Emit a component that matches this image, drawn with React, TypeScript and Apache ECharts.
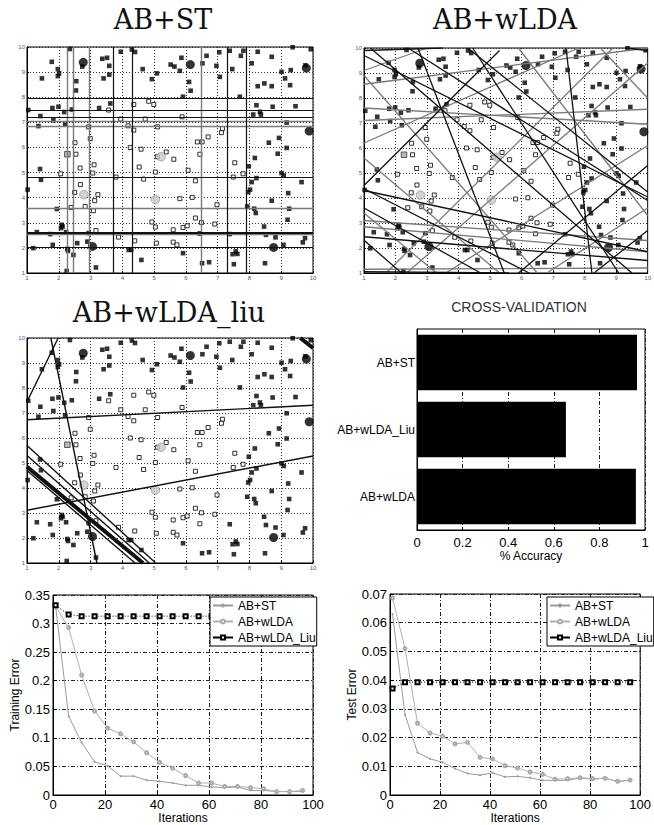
import React, { useEffect, useRef } from "react";
import * as echarts from "echarts";

// ---------- shared 2-D dataset (same points in the three scatter panels) ----------
const filledSquares: number[][] = [
  [2.35, 9.92], [1.78, 9.41], [1.47, 8.75], [1.97, 9.12], [2.01, 8.95], [1.97, 8.84], [2.55, 8.64], [2.54, 8.27],
  [2.74, 9.22], [3.37, 9.53], [3.52, 9.57], [3.59, 9.25], [3.59, 8.9], [3.41, 8.75], [3.95, 9.81], [4.3, 9.9],
  [4.4, 9.8], [4.64, 9.12], [4.93, 8.72], [5.09, 8.95], [5.52, 9.3], [5.64, 9.22], [5.81, 9.05], [5.86, 9.57],
  [6.1, 8.61], [6.15, 8.26], [5.91, 8.02], [6.52, 9.35], [6.65, 9.65], [6.96, 9.25], [7.05, 9.79], [7.07, 8.81],
  [7.38, 9.85], [7.46, 9.12], [7.73, 9.65], [7.81, 9.85], [8.07, 9.35], [8.26, 9.81], [8.7, 9.61], [9.36, 9.99],
  [9.93, 9.91], [9.01, 9.01], [9.12, 8.75], [9.3, 9.08], [9.28, 8.48], [8.47, 8.55], [8.26, 8.44], [8.7, 8.44],
  [7.7, 8.02], [9.76, 9.27],
  [1.04, 7.49], [1.42, 7.25], [1.36, 6.85], [1.83, 7.08], [1.8, 7.57], [1.99, 7.62], [2.17, 7.41], [2.41, 7.51],
  [2.2, 6.91], [3.27, 7.57], [3.62, 7.75], [8.22, 7.68], [8.33, 7.42], [8.36, 7.31], [8.12, 7.31], [8.73, 7.62],
  [9.45, 7.64], [9.17, 6.99], [8.61, 6.19], [8.93, 6.38], [9.17, 5.98], [8.89, 5.75], [8.17, 5.58], [7.98, 5.25],
  [9.01, 4.98], [9.08, 4.88], [8.22, 4.78], [8.07, 4.62], [9.64, 4.62], [8.02, 4.32], [7.96, 4.22], [9.22, 4.18],
  [7.93, 3.65], [8.15, 3.56], [8.2, 3.39], [8.7, 3.88], [9.25, 3.56], [9.2, 3.12],
  [8.46, 2.85], [8.52, 2.52], [8.82, 2.42], [9.07, 2.12], [9.75, 2.39], [9.68, 2.22], [8.49, 1.39], [7.38, 2.55],
  [7.57, 1.86], [7.62, 1.76], [7.47, 1.75], [7.51, 1.35], [6.73, 1.43], [6.51, 1.39], [5.91, 1.79], [4.6, 1.52],
  [4.2, 1.92], [4.28, 1.92],
  [1.41, 5.14], [1.44, 4.71], [1.02, 4.32], [1.94, 3.55], [2.09, 2.92], [2.07, 2.79], [2.12, 2.85], [1.31, 2.63],
  [1.73, 2.55], [2.23, 2.63], [1.2, 1.99], [1.81, 2.12], [2.27, 1.96], [2.29, 1.88], [2.46, 1.72], [2.58, 2.19],
  [2.9, 2.25], [2.94, 2.59], [2.25, 1.08], [3.17, 1.22],
];
const hollowSquares: number[][] = [
  [3.57, 7.49], [4.36, 7.71], [4.83, 7.84], [4.99, 7.71], [3.95, 7.13], [4.18, 6.86], [4.36, 6.69], [4.72, 7.13],
  [5.11, 6.82], [2.94, 6.82], [2.99, 6.35], [2.51, 6.19], [2.54, 5.73], [4.25, 6.0], [4.59, 5.93], [5.88, 7.22],
  [7.15, 6.75], [7.12, 6.59], [6.7, 6.42], [6.36, 6.22], [6.51, 6.22], [6.44, 5.73], [5.62, 5.53], [5.38, 5.82],
  [5.1, 5.63],
  [2.67, 5.18], [3.11, 5.31], [3.07, 4.98], [2.06, 4.95], [2.68, 4.52], [2.5, 4.21], [3.23, 4.12], [3.13, 3.88],
  [3.09, 3.48], [2.83, 3.65], [2.39, 3.61], [3.8, 4.82], [4.53, 5.22], [4.67, 4.74], [5.04, 5.02], [4.93, 3.03],
  [5.04, 2.83], [3.17, 2.69], [3.88, 2.43], [4.39, 2.28], [5.07, 2.19],
  [7.54, 5.39], [6.07, 5.09], [7.8, 4.95], [7.49, 4.82], [6.3, 4.67], [5.81, 3.96], [6.2, 4.01], [6.98, 3.72],
  [6.3, 3.19], [6.49, 3.01], [6.91, 2.95], [5.6, 2.72], [5.91, 2.81], [6.04, 2.88], [6.44, 2.57], [5.6, 2.23],
  [5.72, 2.12],
];
const graySquares: number[][] = [[2.27, 5.73]];
const bigBlackCircles: number[][] = [[2.77, 9.39], [6.14, 9.3], [9.79, 9.16], [9.88, 6.65], [3.06, 2.06], [8.76, 2.02]];
const grayCircles: number[][] = [[5.22, 5.63], [2.79, 4.12], [5.04, 3.92]];

// ---------- weak-learner boundaries ----------
const stVerticalBlack = [3.72, 4.3, 7.3, 7.89];
const stVerticalGray = [2.27, 2.44, 2.97, 6.49];
const stHorizontalBlack = [7.95, 7.5, 7.22, 4.8, 2.01];
const stHorizontalBold = [2.62];
const stHorizontalGray = [7.05, 6.85, 3.57, 2.54];

// [x1, y1, x2, y2]
const wldaLinesBlack: number[][] = [
  [1, 9.7, 10, 4.04], [2.4, 10, 10, 3.9], [4.29, 10, 10, 4.24], [4.45, 10, 9.08, 1], [7.41, 10, 8.23, 1],
  [2.71, 10, 5.45, 1], [1, 4.37, 6.24, 1], [1, 3.6, 4.7, 1], [1, 2.31, 2.19, 1], [1, 4.5, 5.3, 9.9],
  [1.2, 10, 9.5, 1], [1, 4.3, 10, 1.85], [8.3, 1, 10, 2.7], [5.9, 1, 10, 5.3], [1, 2.45, 10, 1.5],
  [1, 1.05, 6, 1], [9.3, 10, 10, 9.9], [1, 9.9, 3.5, 10],
];
const wldaLinesGray: number[][] = [
  [1, 6.2, 7.8, 10], [1, 7.6, 10, 6.95], [1, 7.1, 10, 7.55], [1, 8.55, 10, 10], [3.6, 1, 10, 6.1],
  [1.7, 1, 8.9, 10], [6.8, 1, 10, 3.6], [5.9, 10, 10, 3.3], [8.5, 10, 10, 8.0], [1, 3.1, 10, 2.3],
  [1, 2.85, 10, 1.85], [1, 1.15, 10, 1.2], [1, 5.6, 5.3, 1], [1, 8.9, 6.5, 1], [2.35, 1, 10, 9.4],
  [1, 9.1, 3, 10], [1, 3.4, 3.3, 1],
];
const liuLinesThin: number[][] = [
  [1, 7.45, 1.98, 10], [1.75, 10, 3.2, 1], [1, 6.73, 10, 7.31], [1, 3.11, 10, 5.28],
  [1, 5.7, 5.05, 1], [1, 5.3, 4.85, 1], [1, 4.7, 4.4, 1],
];
const liuLinesThick: number[][] = [[1, 4.85, 4.65, 1], [9.6, 10, 10, 9.6]];

// ---------- cross-validation ----------
const cvMethods = ["AB+wLDA", "AB+wLDA_Liu", "AB+ST"];
const cvAccuracy = [0.96, 0.653, 0.965];

// ---------- error curves ----------
const iterations = [1, 6, 11, 16, 21, 26, 31, 36, 41, 46, 51, 56, 61, 66, 71, 76, 81, 86, 91, 96];
const trainST = [0.33, 0.138, 0.092, 0.058, 0.051, 0.033, 0.033, 0.026, 0.024, 0.021, 0.017, 0.017, 0.014, 0.013, 0.014, 0.008, 0.008, 0.006, 0.006, 0.006];
const trainWLDA = [0.33, 0.293, 0.21, 0.147, 0.117, 0.107, 0.093, 0.074, 0.057, 0.047, 0.034, 0.021, 0.021, 0.015, 0.015, 0.013, 0.011, 0.006, 0.006, 0.008];
const trainLiu = [0.332, 0.316, 0.313, 0.313, 0.313, 0.313, 0.313, 0.313, 0.313, 0.313, 0.313, 0.313, 0.313, 0.313, 0.313, 0.313, 0.313, 0.313, 0.313, 0.313];
const testST = [0.063, 0.028, 0.0148, 0.0126, 0.0114, 0.0092, 0.0075, 0.0069, 0.0077, 0.0063, 0.0065, 0.006, 0.0051, 0.0051, 0.0051, 0.0059, 0.0055, 0.0059, 0.0046, 0.0052];
const testWLDA = [0.0686, 0.051, 0.025, 0.0216, 0.0205, 0.0178, 0.0183, 0.0131, 0.0126, 0.0102, 0.0094, 0.008, 0.0072, 0.0055, 0.0057, 0.006, 0.0057, 0.0058, 0.0048, 0.0052];
const testLiu = [0.0371, 0.0393, 0.0393, 0.0393, 0.0393, 0.0393, 0.0393, 0.0393, 0.0393, 0.0393, 0.0393, 0.0393, 0.0393, 0.0393, 0.0393, 0.0393, 0.0393, 0.0393, 0.0393, 0.0393];

const seriesNames = ["AB+ST", "AB+wLDA", "AB+wLDA_Liu"];

function segs(list: number[][]) {
  return list.map((l) => ({ coords: [[l[0], l[1]], [l[2], l[3]]] }));
}

function buildOption() {
  const grids: any[] = [
    { left: 27, top: 47, width: 286, height: 226 },
    { left: 364, top: 48, width: 285, height: 225 },
    { left: 27, top: 338, width: 286, height: 225 },
    { left: 417, top: 329, width: 228, height: 201 },
    { left: 53, top: 595, width: 260, height: 204 },
    { left: 390, top: 594, width: 255, height: 205 },
  ].map((g) => ({ ...g, show: true, borderColor: "#000", borderWidth: 1, backgroundColor: "transparent" }));

  const xAxis: any[] = [];
  const yAxis: any[] = [];
  const series: any[] = [];

  const dotted = { color: "#333", type: [1, 2], width: 1 };
  const dashDot = { color: "#222", type: [4, 2, 1, 2], width: 1 };

  for (let i = 0; i < 3; i++) {
    const common = {
      gridIndex: i, type: "value", min: 1, max: 10, interval: 1,
      axisLine: { show: true, onZero: false, lineStyle: { color: "#000", width: 1 } },
      axisTick: { show: true, inside: true, length: 2, lineStyle: { color: "#000" } },
      axisLabel: { fontSize: 6, color: "#4a5590", margin: 2, fontFamily: "Liberation Sans" },
      splitLine: { show: true, lineStyle: dotted },
    };
    xAxis.push({ ...common });
    yAxis.push({ ...common });
    const ax = { xAxisIndex: i, yAxisIndex: i };
    series.push({ type: "scatter", ...ax, data: filledSquares, symbol: "rect", symbolSize: 4.6, itemStyle: { color: "#000" }, z: 3, silent: true });
    series.push({ type: "scatter", ...ax, data: hollowSquares, symbol: "rect", symbolSize: 4, itemStyle: { color: "#fff", borderColor: "#000", borderWidth: 1 }, z: 3, silent: true });
    series.push({ type: "scatter", ...ax, data: graySquares, symbol: "rect", symbolSize: 5.5, itemStyle: { color: "#aaa", borderColor: "#333", borderWidth: 1 }, z: 3, silent: true });
    series.push({ type: "scatter", ...ax, data: bigBlackCircles, symbol: "circle", symbolSize: 9, itemStyle: { color: "#000" }, z: 3, silent: true });
    series.push({ type: "scatter", ...ax, data: grayCircles, symbol: "circle", symbolSize: 8.5, itemStyle: { color: "#c9c9c9", borderColor: "#8a8a8a", borderWidth: 0.8 }, z: 3, silent: true });
  }

  const linesSeries = (idx: number, data: any[], color: string, width: number) => ({
    type: "lines", coordinateSystem: "cartesian2d", xAxisIndex: idx, yAxisIndex: idx,
    data, lineStyle: { color, width, opacity: 1 }, z: 4, silent: true, clip: true,
  });

  // AB+ST stumps
  const stV = (xs: number[]) => xs.map((x) => ({ coords: [[x, 1], [x, 10]] }));
  const stH = (ys: number[]) => ys.map((y) => ({ coords: [[1, y], [10, y]] }));
  series.push(linesSeries(0, [...stV(stVerticalGray), ...stH(stHorizontalGray)], "#7a7a7a", 1.4));
  series.push(linesSeries(0, [...stV(stVerticalBlack), ...stH(stHorizontalBlack)], "#111", 1.2));
  series.push(linesSeries(0, stH(stHorizontalBold), "#111", 2));

  // AB+wLDA
  series.push(linesSeries(1, segs(wldaLinesGray), "#7a7a7a", 1.3));
  series.push(linesSeries(1, segs(wldaLinesBlack), "#111", 1.3));

  // AB+wLDA_liu
  series.push(linesSeries(2, segs(liuLinesThin), "#111", 1.4));
  series.push(linesSeries(2, segs(liuLinesThick), "#111", 4));

  // Cross-validation bar chart (index 3)
  xAxis.push({
    gridIndex: 3, type: "value", min: 0, max: 1, interval: 0.2,
    axisLine: { show: true, onZero: false, lineStyle: { color: "#000" } },
    axisTick: { show: true, inside: true, length: 3, lineStyle: { color: "#000" } },
    axisLabel: { fontSize: 13, color: "#000", margin: 6, fontFamily: "Liberation Sans" },
    splitLine: { show: true, lineStyle: dashDot },
    name: "% Accuracy", nameLocation: "middle", nameGap: 20,
    nameTextStyle: { fontSize: 12, color: "#000", fontFamily: "Liberation Sans" },
  });
  yAxis.push({
    gridIndex: 3, type: "category", data: cvMethods,
    axisLine: { show: true, lineStyle: { color: "#000" } },
    axisTick: { show: false },
    axisLabel: { fontSize: 12, color: "#000", margin: 2, fontFamily: "Liberation Sans" },
    splitLine: { show: false },
  });
  series.push({
    type: "bar", xAxisIndex: 3, yAxisIndex: 3, data: cvAccuracy, barCategoryGap: "17%",
    itemStyle: { color: "#000" }, silent: true,
  });

  // Error curves (index 4, 5)
  const errX = (gi: number) => ({
    gridIndex: gi, type: "value", min: 0, max: 100, interval: 20,
    axisLine: { show: true, onZero: false, lineStyle: { color: "#000" } },
    axisTick: { show: true, inside: true, length: 4, lineStyle: { color: "#000" } },
    axisLabel: { fontSize: 13, color: "#000", margin: 3, fontFamily: "Liberation Sans" },
    splitLine: { show: true, lineStyle: dashDot },
    name: "Iterations", nameLocation: "middle", nameGap: 17,
    nameTextStyle: { fontSize: 12, color: "#000", fontFamily: "Liberation Sans" },
  });
  const errY = (gi: number, max: number, interval: number, name: string, gap: number) => ({
    gridIndex: gi, type: "value", min: 0, max, interval,
    axisLine: { show: true, onZero: false, lineStyle: { color: "#000" } },
    axisTick: { show: true, inside: true, length: 4, lineStyle: { color: "#000" } },
    axisLabel: { fontSize: 13, color: "#000", margin: 3, fontFamily: "Liberation Sans" },
    splitLine: { show: true, lineStyle: dashDot },
    name, nameLocation: "middle", nameGap: gap,
    nameTextStyle: { fontSize: 12, color: "#000", fontFamily: "Liberation Sans" },
  });
  xAxis.push(errX(4));
  yAxis.push(errY(4, 0.35, 0.05, "Training Error", 27));
  xAxis.push(errX(5));
  yAxis.push(errY(5, 0.07, 0.01, "Test Error", 25));

  const curve = (gi: number, name: string, vals: number[]) => {
    const data = iterations.map((x, i) => [x, vals[i]]);
    if (name === "AB+ST") {
      return { type: "line", name, xAxisIndex: gi, yAxisIndex: gi, data, symbol: "circle", symbolSize: 2,
        lineStyle: { color: "#9a9a9a", width: 1 }, itemStyle: { color: "#9a9a9a" }, silent: true, z: 3 };
    }
    if (name === "AB+wLDA") {
      return { type: "line", name, xAxisIndex: gi, yAxisIndex: gi, data, symbol: "emptyCircle", symbolSize: 3,
        lineStyle: { color: "#b0b0b0", width: 1 }, itemStyle: { color: "#a8a8a8", borderWidth: 0.8 }, silent: true, z: 3 };
    }
    return { type: "line", name, xAxisIndex: gi, yAxisIndex: gi, data, symbol: "emptyRect", symbolSize: 4,
      lineStyle: { color: "#000", width: 1, type: [1, 2] }, itemStyle: { color: "#000", borderWidth: 1 }, silent: true, z: 4 };
  };
  series.push(curve(4, "AB+ST", trainST), curve(4, "AB+wLDA", trainWLDA), curve(4, "AB+wLDA_Liu", trainLiu));
  series.push(curve(5, "AB+ST", testST), curve(5, "AB+wLDA", testWLDA), curve(5, "AB+wLDA_Liu", testLiu));

  const legendData = seriesNames.map((n) => (n === "AB+wLDA_Liu" ? { name: n, lineStyle: { type: "solid" } } : { name: n }));
  const legendBase = {
    orient: "vertical", align: "left", itemWidth: 20, itemHeight: 5, itemGap: 3,
    padding: [2, 1, 2, 2], borderColor: "#000", borderWidth: 1, backgroundColor: "#fff",
    textStyle: { fontSize: 12, color: "#000", fontFamily: "Liberation Sans", lineHeight: 13 },
    selectedMode: false, data: legendData, z: 10,
  };

  const title = (text: string, x: number, y: number) => ({
    type: "text", x, y, z: 20,
    style: { text, fill: "#111", fontSize: 27, fontFamily: "DejaVu Serif", align: "center", verticalAlign: "middle" },
  });

  return {
    animation: false,
    backgroundColor: "#fff",
    grid: grids,
    xAxis,
    yAxis,
    series,
    legend: [
      { ...legendBase, left: 210, top: 597 },
      { ...legendBase, left: 547, top: 597 },
    ],
    graphic: [
      title("AB+ST", 163, 19),
      title("AB+wLDA", 505, 19),
      title("AB+wLDA_liu", 169, 312),
      {
        type: "text", x: 519, y: 307, z: 20,
        style: { text: "CROSS-VALIDATION", fill: "#333", fontSize: 14, fontFamily: "Liberation Sans", align: "center", verticalAlign: "middle" },
      },
    ],
  };
}

export default function App() {
  const ref = useRef<HTMLDivElement>(null);
  useEffect(() => {
    if (!ref.current) return;
    const chart = echarts.init(ref.current, undefined, { renderer: "svg" });
    chart.setOption(buildOption() as any);
    return () => chart.dispose();
  }, []);
  return (
    <div
      ref={ref}
      style={{ position: "fixed", left: 0, top: 0, width: 654, height: 825, background: "#fff" }}
    />
  );
}
